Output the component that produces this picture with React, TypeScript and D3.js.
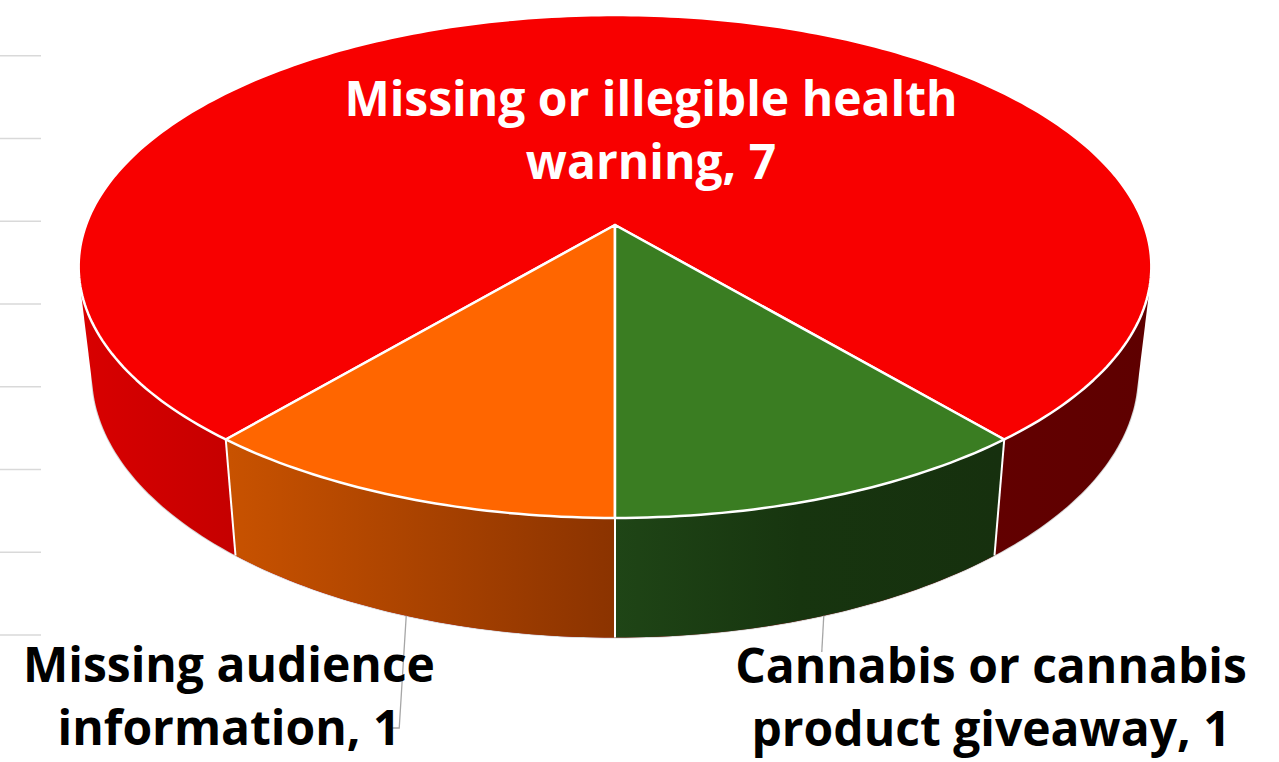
import * as d3 from "d3";

// ---- data ----
const categories = [
  "Missing or illegible health warning",
  "Missing audience information",
  "Cannabis or cannabis product giveaway",
];
const values = [7, 1, 1];
const labelLines = [
  ["Missing or illegible health", "warning, 7"],
  ["Missing audience", "information, 1"],
  ["Cannabis or cannabis", "product giveaway, 1"],
];
const topColors = ["#F80000", "#FF6600", "#3A7D22"];
const gridTicks = [0, 1, 2, 3, 4, 5, 6, 7];

// ---- layout ----
const W = 1279;
const H = 762;
const CX = 615;
const CY = 225;
const RX = 529;
const RY = 244.6;
const P = 0.165; // perspective strength
const DEPTH = 106;
const KB = 0.975; // bottom rim shrink
const FONT = "'Open Sans', 'DejaVu Sans', sans-serif";
const FS = 48;

const rad = (deg: number) => (deg * Math.PI) / 180;

function proj(phi: number, bottom = false): [number, number] {
  const u = Math.sin(phi);
  const v = -Math.cos(phi);
  const s = 1 / (1 - P * v);
  const k = bottom ? KB : 1;
  return [CX + RX * k * u * s, CY + (RY * k * v + (bottom ? DEPTH : 0)) * s];
}

function arcAngles(a0: number, a1: number) {
  const n = Math.max(2, Math.ceil(Math.abs(a1 - a0) / rad(1)));
  return d3.range(n + 1).map((i) => a0 + ((a1 - a0) * i) / n);
}

// label anchors (center x, first baseline)
const labelPos = [
  { x: 651, y: 116, color: "#FFFFFF" },
  { x: 229, y: 682, color: "#000000" },
  { x: 991, y: 683, color: "#000000" },
];
const LINE_H = 63;

export default function App() {
  const pie = d3
    .pie<number>()
    .sort(null)
    .startAngle(rad(140))
    .endAngle(rad(140 - 360));
  const arcs = pie(values);

  const gx0 = CX - RX * 1.02;
  const gx1 = CX + RX * 1.02;
  const off = (x: number) => `${(((x - gx0) / (gx1 - gx0)) * 100).toFixed(2)}%`;
  const sideStops: [number, string][][] = [
    [
      [78, "#D90000"],
      [237, "#C50000"],
      [990, "#620000"],
      [1155, "#5E0000"],
    ],
    [
      [230, "#C85200"],
      [615, "#8B3300"],
    ],
    [
      [615, "#1F4516"],
      [800, "#17350F"],
      [1000, "#16300E"],
    ],
  ];

  // whole cylinder silhouette (tangent generators included) in the red side colour
  const rim = arcAngles(0, Math.PI * 2);
  const hull = d3.polygonHull([
    ...rim.map((t) => proj(t)),
    ...rim.map((t) => proj(t, true)),
  ]);

  // side band of the small slices: top rim forward, bottom rim back
  const sides = arcs.slice(1).map((a, k) => {
    const angs = arcAngles(a.startAngle, a.endAngle);
    const top = angs.map((t) => proj(t));
    const bot = angs.map((t) => proj(t, true)).reverse();
    return { d: `M${[...top, ...bot].join("L")}Z`, i: k + 1 };
  });

  const line = d3.line();

  // front bottom outline
  const frontBottom = arcAngles(rad(80), rad(280)).map((t) => proj(t, true));

  const grid = d3.scaleLinear().domain([0, 7]).range([55.7, 635]);

  const mo = proj((arcs[1].startAngle + arcs[1].endAngle) / 2, true);
  const mg = proj((arcs[2].startAngle + arcs[2].endAngle) / 2, true);

  return (
    <svg
      width={W}
      height={H}
      style={{ position: "absolute", left: 0, top: 0, background: "#fff" }}
    >
      <defs>
        {sideStops.map((stops, i) => (
          <linearGradient
            key={i}
            id={`side${i}`}
            gradientUnits="userSpaceOnUse"
            x1={gx0}
            x2={gx1}
            y1={0}
            y2={0}
          >
            {stops.map(([x, c], k) => (
              <stop key={k} offset={off(x)} stopColor={c} />
            ))}
          </linearGradient>
        ))}
      </defs>

      {gridTicks.map((t) => (
        <line
          key={t}
          x1={0}
          x2={41}
          y1={grid(t)}
          y2={grid(t)}
          stroke="#D9D9D9"
          strokeWidth={1.5}
        />
      ))}

      <path d={line(frontBottom) ?? ""} fill="none" stroke="#D8D8D8" strokeWidth={2} />

      {hull && <path d={(line(hull) ?? "") + "Z"} fill="url(#side0)" />}

      {sides.map((s, k) => (
        <path key={k} d={s.d} fill={`url(#side${s.i})`} />
      ))}

      {arcs
        .filter((a) => -Math.cos(a.startAngle) > 0)
        .map((a, k) => {
          const t = proj(a.startAngle);
          const b = proj(a.startAngle, true);
          return (
            <line
              key={k}
              x1={t[0]}
              y1={t[1]}
              x2={b[0]}
              y2={b[1]}
              stroke="#FFFFFF"
              strokeWidth={2}
            />
          );
        })}

      {arcs.map((a, i) => {
        const pts = [
          [CX, CY] as [number, number],
          ...arcAngles(a.startAngle, a.endAngle).map((t) => proj(t)),
        ];
        return (
          <path
            key={i}
            d={(line(pts) ?? "") + "Z"}
            fill={topColors[i]}
            stroke="#FFFFFF"
            strokeWidth={2.5}
            strokeLinejoin="round"
          >
            <title>{`${categories[i]}: ${values[i]}`}</title>
          </path>
        );
      })}

      {/* leader lines */}
      <g stroke="#A6A6A6" strokeWidth={1.3} fill="none">
        <path
          d={`M${mo[0]},${mo[1]}L${mo[0] - 7},${labelPos[1].y + 46}L${mo[0] - 14},${labelPos[1].y + 46}`}
        />
        <path d={`M${mg[0]},${mg[1]}L${mg[0] - 2},${labelPos[2].y - 31}`} />
      </g>

      {labelLines.map((ls, i) => (
        <text
          key={i}
          x={labelPos[i].x}
          y={labelPos[i].y}
          textAnchor="middle"
          fill={labelPos[i].color}
          fontFamily={FONT}
          fontWeight={700}
          fontSize={FS}
        >
          {ls.map((s, k) => (
            <tspan key={k} x={labelPos[i].x} dy={k === 0 ? 0 : LINE_H}>
              {s}
            </tspan>
          ))}
        </text>
      ))}
    </svg>
  );
}
